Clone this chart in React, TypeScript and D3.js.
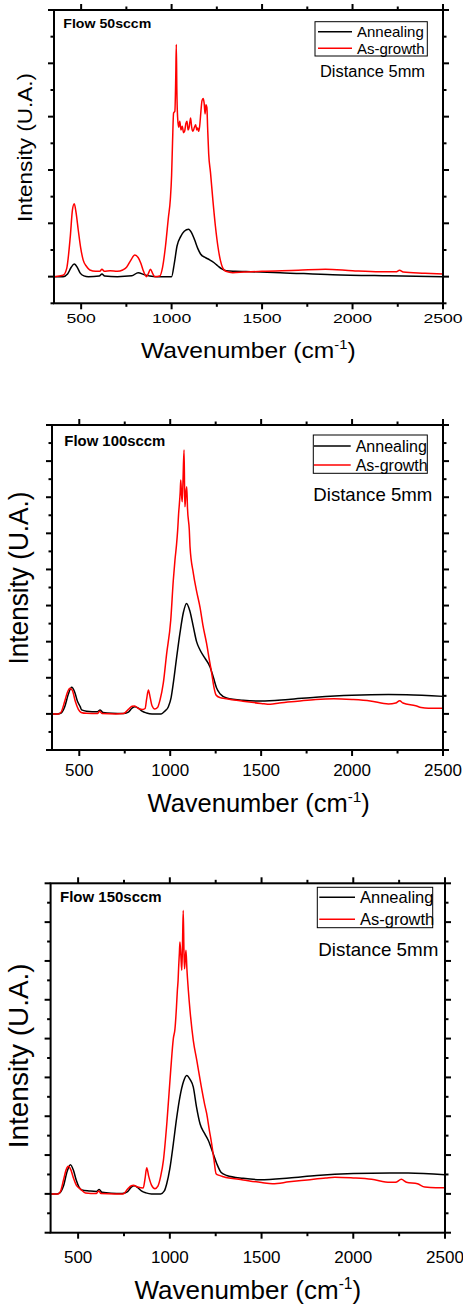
import React from 'react';
import * as d3 from 'd3';

// x axis ticks (wavenumber, cm-1)
const xMajorTicks = [500, 1000, 1500, 2000, 2500];
const xMinorTicks = [750, 1250, 1750, 2250];
const seriesNames = ['Annealing', 'As-growth'];
const seriesColors = ['#000000', '#ff0000'];
const flowLabels = ['Flow 50sccm', 'Flow 100sccm', 'Flow 150sccm'];
const distanceLabel = 'Distance 5mm';

// [wavenumber, intensity]
const annealing50: [number, number][] = [
  [350, 0], [400, 0], [425, 0.1], [445, 0.35], [462, 0.47], [480, 0.33], [495, 0.13], [515, 0.03],
  [540, 0], [600, 0.02], [615, 0.1], [630, 0.02], [700, 0], [780, 0.03], [815, 0.15], [850, 0.07],
  [880, 0.02], [920, 0], [1000, 0], [1015, 0.5], [1030, 1.15], [1050, 1.5], [1070, 1.7], [1094, 1.78],
  [1110, 1.65], [1127, 1.38], [1145, 1.05], [1160, 0.85], [1185, 0.72], [1210, 0.63], [1235, 0.52],
  [1256, 0.4], [1280, 0.28], [1302, 0.22], [1350, 0.2], [1411, 0.19], [1600, 0.15], [1890, 0.07],
  [2200, 0.03], [2500, 0],
];
const asGrowth50: [number, number][] = [
  [350, 0], [400, 0.05], [420, 0.3], [440, 1.5], [452, 2.5], [462, 2.73], [472, 2.4], [484, 1.75],
  [497, 1.1], [511, 0.63], [530, 0.38], [548, 0.25], [580, 0.2], [603, 0.2], [615, 0.28], [628, 0.2],
  [660, 0.22], [700, 0.2], [730, 0.25], [751, 0.35], [775, 0.62], [796, 0.81], [815, 0.72], [830, 0.5],
  [842, 0.25], [861, 0], [872, 0.12], [883, 0.28], [895, 0.12], [907, 0], [934, 0.02], [950, 0.35],
  [966, 1.13], [982, 2.2], [993, 2.9], [1000, 3.8], [1005, 5.0], [1011, 6.14], [1018, 6.2], [1023, 7.5],
  [1026, 8.71], [1029, 7.0], [1033, 6.0], [1039, 5.6], [1045, 5.83], [1052, 5.5], [1059, 5.64],
  [1066, 5.4], [1072, 5.45], [1079, 5.75], [1085, 5.83], [1091, 5.5], [1096, 5.57], [1101, 5.8],
  [1105, 5.95], [1111, 5.6], [1118, 5.45], [1126, 5.6], [1133, 5.7], [1139, 5.5], [1144, 5.57],
  [1150, 5.45], [1155, 5.64], [1162, 6.2], [1168, 6.6], [1174, 6.68], [1180, 6.5], [1185, 6.1],
  [1190, 6.45], [1195, 6.35], [1199, 5.6], [1205, 4.6], [1215, 3.9], [1228, 2.88], [1242, 1.9],
  [1256, 1.13], [1270, 0.6], [1283, 0.32], [1300, 0.2], [1338, 0.15], [1400, 0.17], [1500, 0.2],
  [1700, 0.24], [1850, 0.28], [2000, 0.22], [2150, 0.18], [2240, 0.18], [2260, 0.24], [2280, 0.17],
  [2400, 0.13], [2500, 0.1],
];

const annealing100: [number, number][] = [
  [350, 0], [380, 0], [400, 0.05], [420, 0.4], [440, 1.1], [458, 1.47], [475, 1.2], [490, 0.7],
  [505, 0.4], [513, 0.22], [540, 0.15], [600, 0.12], [615, 0.22], [630, 0.08], [680, 0.03], [740, 0.02],
  [770, 0.1], [790, 0.32], [806, 0.4], [825, 0.32], [845, 0.15], [870, 0.05], [900, 0], [950, 0],
  [970, 0.15], [990, 0.4], [1005, 0.9], [1017, 1.7], [1035, 3.1], [1054, 4.5], [1072, 5.6], [1090, 6.12],
  [1108, 5.7], [1127, 4.83], [1145, 4.0], [1164, 3.54], [1190, 3.1], [1219, 2.6], [1238, 2.0],
  [1255, 1.43], [1275, 1.1], [1310, 0.88], [1400, 0.75], [1500, 0.71], [1650, 0.8], [1800, 0.92],
  [2000, 1.03], [2200, 1.07], [2300, 1.06], [2500, 0.97],
];
const asGrowth100: [number, number][] = [
  [350, 0], [385, 0], [400, 0.1], [420, 0.7], [435, 1.2], [449, 1.42], [462, 1.3], [478, 0.7],
  [495, 0.25], [510, 0.08], [540, 0.03], [600, 0.02], [612, 0.15], [625, 0.02], [700, 0], [745, 0.02],
  [770, 0.25], [790, 0.42], [805, 0.44], [825, 0.3], [850, 0.25], [862, 0.3], [870, 0.8], [880, 1.32],
  [890, 0.9], [900, 0.45], [915, 0.27], [930, 0.35], [944, 0.77], [962, 1.7], [980, 3.3], [1003, 5.2],
  [1017, 7.4], [1026, 8.5], [1035, 9.4], [1041, 10.18], [1047, 11.2], [1050, 11.57], [1055, 12.3],
  [1058, 12.95], [1062, 12.2], [1066, 11.75], [1070, 12.8], [1076, 14.61], [1079, 12.5], [1081, 11.47],
  [1086, 12.2], [1091, 12.58], [1095, 11.4], [1105, 10.18], [1109, 9.26], [1127, 7.8], [1145, 6.8],
  [1164, 5.9], [1180, 4.9], [1200, 3.9], [1215, 3.0], [1228, 2.26], [1240, 1.5], [1252, 1.05],
  [1274, 0.9], [1300, 0.85], [1400, 0.7], [1500, 0.58], [1550, 0.53], [1600, 0.6], [1700, 0.7],
  [1800, 0.8], [1900, 0.84], [2000, 0.8], [2100, 0.72], [2200, 0.55], [2240, 0.6], [2262, 0.73],
  [2280, 0.6], [2350, 0.45], [2380, 0.35], [2420, 0.31], [2500, 0.31],
];

const annealing150: [number, number][] = [
  [350, 0], [385, 0], [400, 0.05], [420, 0.4], [440, 1.15], [458, 1.5], [475, 1.2], [490, 0.7],
  [505, 0.35], [520, 0.2], [560, 0.15], [600, 0.12], [615, 0.22], [630, 0.08], [680, 0.03], [740, 0.02],
  [770, 0.12], [790, 0.35], [806, 0.42], [825, 0.32], [845, 0.15], [870, 0.05], [900, 0], [950, 0],
  [970, 0.15], [983, 0.52], [1000, 1.3], [1019, 2.58], [1037, 3.9], [1055, 5.0], [1075, 5.8],
  [1092, 6.1], [1110, 5.9], [1128, 5.5], [1145, 4.5], [1165, 3.6], [1190, 3.1], [1210, 2.75],
  [1235, 2.1], [1256, 1.55], [1280, 1.1], [1310, 0.95], [1400, 0.8], [1492, 0.73], [1650, 0.82],
  [1800, 0.95], [2000, 1.05], [2200, 1.08], [2300, 1.07], [2500, 0.99],
];
const asGrowth150: [number, number][] = [
  [350, 0], [392, 0], [405, 0.15], [420, 0.7], [435, 1.25], [446, 1.42], [460, 1.25], [475, 0.8],
  [490, 0.45], [510, 0.27], [540, 0.05], [600, 0.02], [612, 0.15], [625, 0.02], [700, 0], [746, 0],
  [770, 0.25], [790, 0.42], [801, 0.44], [825, 0.35], [855, 0.3], [865, 0.8], [874, 1.35], [885, 0.9],
  [900, 0.45], [919, 0.27], [935, 0.4], [950, 0.9], [965, 1.73], [985, 3.8], [1005, 6.4], [1019, 8.0],
  [1028, 8.5], [1036, 9.6], [1041, 10.48], [1045, 11.0], [1048, 11.68], [1052, 12.4], [1055, 12.97],
  [1060, 12.3], [1065, 11.52], [1069, 12.8], [1073, 14.6], [1077, 12.5], [1080, 11.6], [1084, 12.1],
  [1088, 12.55], [1093, 11.6], [1101, 10.48], [1110, 9.45], [1128, 7.9], [1147, 6.88], [1170, 5.6],
  [1190, 4.6], [1201, 4.13], [1215, 3.3], [1228, 2.58], [1240, 1.8], [1252, 1.04], [1270, 0.95],
  [1292, 0.88], [1400, 0.72], [1500, 0.58], [1560, 0.52], [1650, 0.62], [1750, 0.72], [1850, 0.82],
  [1900, 0.86], [2000, 0.82], [2100, 0.75], [2200, 0.6], [2230, 0.6], [2262, 0.75], [2290, 0.6],
  [2350, 0.52], [2390, 0.35], [2450, 0.32], [2500, 0.32],
];

const FONT = "'Liberation Sans', Arial, sans-serif";

// layout of each panel (pixels)
const panels = [
  {
    box: [54, 10, 443, 303.3], yDomain: [-1, 10],
    tickFont: 12.6, tickSx: 1.4, tickBase: 323.3,
    title: { cx: 248.3, base: 357.7, font: 22, sx: 1.12 },
    yLabel: { x: 32, cy: 147.5, font: 21, len: 149 },
    flow: { x: 63.3, y: 24, font: 12.5, len: 88 },
    legend: { box: [315, 21.7, 427.3, 56], line: [318, 352], textX: 357, rows: [31.7, 48.3], font: 15 },
    dist: { x: 320, y: 71.7, font: 16, len: 105 },
  },
  {
    box: [52, 425, 443, 750], yDomain: [-2, 16],
    tickFont: 17, tickSx: 1, tickBase: 775.7,
    title: { cx: 258.7, base: 812.3, font: 25, sx: 1.02 },
    yLabel: { x: 28.3, cy: 578, font: 27, len: 173 },
    flow: { x: 64.3, y: 441, font: 14, len: 101 },
    legend: { box: [313.3, 435, 427.3, 473.3], line: [314, 350.7], textX: 355.7, rows: [446, 465], font: 16 },
    dist: { x: 313.3, y: 494, font: 18.5, len: 119 },
  },
  {
    box: [50.6, 883.3, 445, 1232.7], yDomain: [-2, 16],
    tickFont: 17, tickSx: 1, tickBase: 1263.3,
    title: { cx: 247.8, base: 1299, font: 26, sx: 1 },
    yLabel: { x: 28.3, cy: 1055.8, font: 28, len: 185 },
    flow: { x: 60, y: 897.3, font: 14, len: 101.7 },
    legend: { box: [317.3, 887.3, 432.7, 927.7], line: [319.3, 355], textX: 360, rows: [897.3, 919.3], font: 16.5 },
    dist: { x: 318.3, y: 949, font: 19, len: 120 },
  },
];

const seriesData = [
  [annealing50, asGrowth50],
  [annealing100, asGrowth100],
  [annealing150, asGrowth150],
];

const Panel = ({ cfg, series, flowLabel }: any) => {
  const [left, top, right, bottom] = cfg.box;
  const x = d3.scaleLinear().domain([350, 2500]).range([left, right]);
  const y = d3.scaleLinear().domain(cfg.yDomain).range([bottom, top]);
  const line = d3.line<[number, number]>()
    .x(d => x(d[0]))
    .y(d => y(d[1]))
    .curve(d3.curveMonotoneX);
  const yTicks = d3.range(cfg.yDomain[0], cfg.yDomain[1] + 1);
  const majLen = 6, minLen = 3.5;
  const t = cfg.title;
  const lg = cfg.legend;

  return (
    <g fontFamily={FONT}>
      {series.map((s: [number, number][], i: number) => (
        <path key={i} d={line(s) || ''} fill='none' stroke={seriesColors[i]} strokeWidth={1.5} strokeLinejoin='round' />
      ))}

      {/* ticks on all four sides, pointing out */}
      {xMajorTicks.concat(xMinorTicks).map(v => {
        const len = xMajorTicks.includes(v) ? majLen : minLen;
        return (
          <g key={'x' + v} stroke='#000' strokeWidth={2}>
            <line x1={x(v)} x2={x(v)} y1={bottom} y2={bottom + len} />
            <line x1={x(v)} x2={x(v)} y1={top} y2={top - len} />
          </g>
        );
      })}
      {yTicks.map(v => {
        const len = v % 2 === 0 ? majLen : minLen;
        return (
          <g key={'y' + v} stroke='#000' strokeWidth={2}>
            <line x1={left} x2={left - len} y1={y(v)} y2={y(v)} />
            <line x1={right} x2={right + len} y1={y(v)} y2={y(v)} />
          </g>
        );
      })}
      <rect x={left} y={top} width={right - left} height={bottom - top} fill='none' stroke='#000' strokeWidth={2} />

      {xMajorTicks.map(v => (
        <g key={'l' + v} transform={`translate(${x(v)},${cfg.tickBase}) scale(${cfg.tickSx},1)`}>
          <text textAnchor='middle' fontSize={cfg.tickFont} fill='#000'>{v}</text>
        </g>
      ))}

      <g transform={`translate(${t.cx},${t.base}) scale(${t.sx},1)`}>
        <text textAnchor='middle' fontSize={t.font} fill='#000'>
          Wavenumber (cm
          <tspan fontSize={t.font * 0.6} dy={-t.font * 0.4}>-1</tspan>
          <tspan dy={t.font * 0.4}>)</tspan>
        </text>
      </g>

      <text
        transform={`translate(${cfg.yLabel.x},${cfg.yLabel.cy}) rotate(-90)`}
        textAnchor='middle'
        fontSize={cfg.yLabel.font}
        textLength={cfg.yLabel.len}
        lengthAdjust='spacingAndGlyphs'
        fill='#000'
      >
        Intensity (U.A.)
      </text>

      <text x={cfg.flow.x} y={cfg.flow.y} dominantBaseline='central' fontWeight='bold'
        fontSize={cfg.flow.font} textLength={cfg.flow.len} lengthAdjust='spacingAndGlyphs' fill='#000'>
        {flowLabel}
      </text>

      <rect x={lg.box[0]} y={lg.box[1]} width={lg.box[2] - lg.box[0]} height={lg.box[3] - lg.box[1]}
        fill='#fff' stroke='#000' strokeWidth={1} />
      {seriesNames.map((name, i) => (
        <g key={name}>
          <line x1={lg.line[0]} x2={lg.line[1]} y1={lg.rows[i]} y2={lg.rows[i]} stroke={seriesColors[i]} strokeWidth={1.5} />
          <text x={lg.textX} y={lg.rows[i]} dominantBaseline='central' fontSize={lg.font} fill='#000'>{name}</text>
        </g>
      ))}

      <text x={cfg.dist.x} y={cfg.dist.y} dominantBaseline='central' fontSize={cfg.dist.font}
        textLength={cfg.dist.len} lengthAdjust='spacingAndGlyphs' fill='#000'>
        {distanceLabel}
      </text>
    </g>
  );
};

const App = () => (
  <svg width={463} height={1308} style={{ position: 'absolute', left: 0, top: 0, background: '#fff' }}>
    <rect width={463} height={1308} fill='#fff' />
    {panels.map((cfg, i) => (
      <Panel key={i} cfg={cfg} series={seriesData[i]} flowLabel={flowLabels[i]} />
    ))}
  </svg>
);

export default App;
